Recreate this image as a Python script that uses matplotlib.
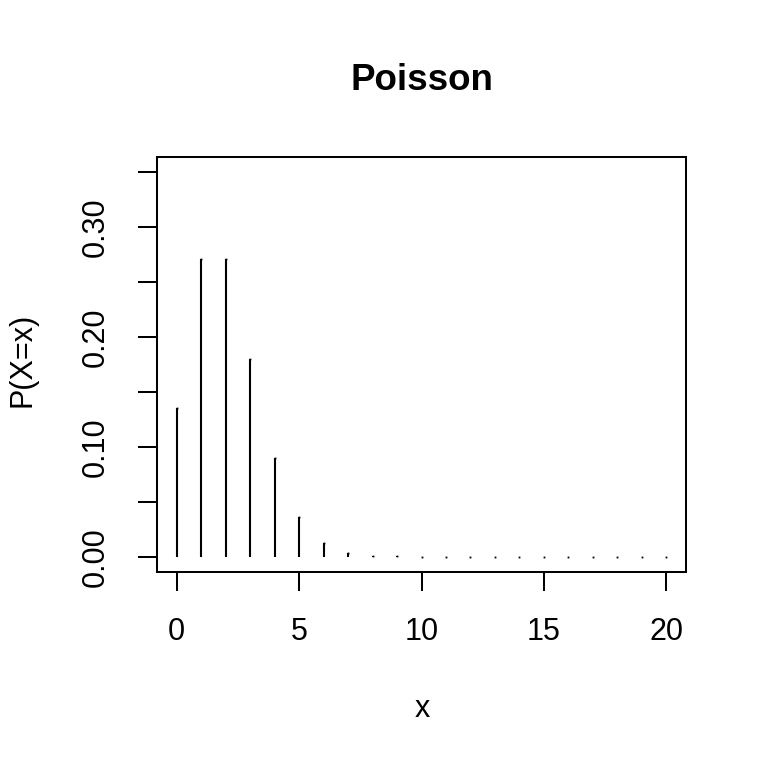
import numpy as np
import matplotlib.pyplot as plt

plt.rcParams['font.family'] = ['Liberation Sans', 'DejaVu Sans']

# values
x = list(range(21))
p = [0.135, 0.271, 0.271, 0.180, 0.090, 0.036, 0.012, 0.0034, 0.0009,
     0.0002, 0.00004, 0.00001, 0, 0, 0, 0, 0, 0, 0, 0, 0]
xticks = [0, 5, 10, 15, 20]
yticks = [0, 0.05, 0.10, 0.15, 0.20, 0.25, 0.30, 0.35]
ylabels = ["0.00", "", "0.10", "", "0.20", "", "0.30", ""]

fig = plt.figure(figsize=(7.68, 7.68), dpi=100)
ax = fig.add_axes([157/768, 1 - 572/768, (686 - 157)/768, (572 - 157)/768])

ax.vlines(x, 0, p, colors='black', linewidth=1.5, capstyle='butt')
# R draws zero-height stems as tiny dots
ax.plot(x, p, ls='none', marker='s', ms=1.3, mew=0, color='black')

ax.set_xlim(-0.8, 20.8)
ax.set_ylim(-0.014, 0.364)
ax.set_xticks(xticks)
ax.set_xticklabels([str(t) for t in xticks])
ax.set_yticks(yticks)
ax.set_yticklabels(ylabels, rotation=90, va='center')
for s in ax.spines.values():
    s.set_linewidth(1.45)
ax.tick_params(direction='out', length=13.5, width=1.45, labelsize=22)
ax.tick_params(axis='x', pad=19)
ax.tick_params(axis='y', pad=20)

fig.text(422/768, 1 - 81/768, "Poisson", ha='center', va='center',
         fontsize=26.5, fontweight='bold')
fig.text(422/768, 1 - 709/768, "x", ha='center', va='center', fontsize=22)
fig.text(23/768, 1 - 360/768, "P(X=x)", ha='center', va='center',
         fontsize=22, rotation=90)

fig.savefig("out.png", dpi=100)
